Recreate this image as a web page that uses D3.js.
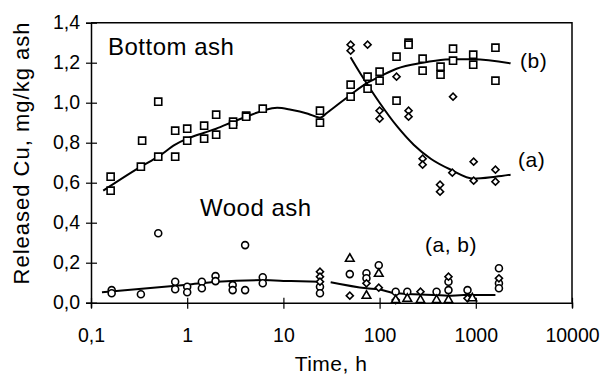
<!DOCTYPE html>
<html>
<head>
<meta charset="utf-8">
<script src="https://cdn.jsdelivr.net/npm/d3@7"></script>
<style>
  body { margin: 0; background: #fff; }
  text { font-family: Arial, "Liberation Sans", sans-serif; fill: #000; }
</style>
</head>
<body>
<svg id="chart" width="607" height="377"></svg>
<script>
// tick labels
const xTicks = [0.1, 1, 10, 100, 1000, 10000];
const xTickLabels = ['0,1', '1', '10', '100', '1000', '10000'];
const yTicks = [0, 0.2, 0.4, 0.6, 0.8, 1.0, 1.2, 1.4];
const yTickLabels = ['0,0', '0,2', '0,4', '0,6', '0,8', '1,0', '1,2', '1,4'];

// bottom ash, series (b): squares
const bottomBTime = [0.16, 0.16, 0.33, 0.34, 0.5, 0.5, 0.75, 0.75, 1.0, 1.0, 1.5, 1.5, 2.0, 2.0, 3.0, 3.0, 4.1, 4.1, 6.1,
  24, 24, 50, 50, 75, 75, 100, 100, 150, 150, 200, 200, 280, 280, 430, 430, 580, 580, 940, 940, 1600, 1600];
const bottomBCu = [0.63, 0.56, 0.68, 0.81, 1.005, 0.73, 0.86, 0.73, 0.87, 0.81, 0.885, 0.82, 0.94, 0.84, 0.905, 0.89, 0.935, 0.93, 0.97,
  0.96, 0.90, 1.09, 1.03, 1.13, 1.07, 1.155, 1.11, 1.23, 1.01, 1.30, 1.29, 1.22, 1.16, 1.18, 1.14, 1.27, 1.21, 1.24, 1.19, 1.275, 1.11];

// bottom ash, series (a): diamonds
const bottomATime = [50, 50, 75, 100, 100, 150, 200, 200, 280, 280, 425, 425, 570, 580, 950, 950, 1600, 1600];
const bottomACu = [1.29, 1.26, 1.29, 0.96, 0.92, 1.13, 0.96, 0.93, 0.72, 0.69, 0.59, 0.555, 0.65, 1.03, 0.705, 0.61, 0.665, 0.605];

// fitted curves, bottom ash
const curveBTime = [0.134, 0.33, 0.5, 0.75, 1, 1.5, 2, 3, 4.1, 6.1, 8.6, 12, 18, 24, 28.5, 50, 75, 100, 150, 280, 380, 580, 940, 2300];
const curveBCu = [0.56, 0.68, 0.73, 0.79, 0.82, 0.85, 0.87, 0.905, 0.93, 0.96, 0.975, 0.965, 0.945, 0.925, 0.95, 1.04, 1.10, 1.13, 1.17, 1.20, 1.21, 1.217, 1.217, 1.197];
const curveATime = [50, 60.6, 75, 100, 153, 226, 340, 550, 950, 1600, 2300];
const curveACu = [1.227, 1.16, 1.09, 1.0, 0.88, 0.79, 0.72, 0.665, 0.62, 0.63, 0.64];

// wood ash markers
const woodCircleTime = [0.164, 0.164, 0.33, 0.5, 0.75, 0.75, 1.0, 1.0, 1.42, 1.42, 1.97, 1.97, 2.97, 2.97, 4.0, 4.0, 6.1, 6.1,
  24, 24, 49, 73, 73, 98, 147, 194, 391, 520, 520, 820, 1740, 1740, 1740];
const woodCircleCu = [0.063, 0.047, 0.042, 0.347, 0.105, 0.067, 0.08, 0.052, 0.105, 0.072, 0.133, 0.108, 0.088, 0.063, 0.288, 0.063, 0.127, 0.097,
  0.08, 0.047, 0.143, 0.147, 0.122, 0.187, 0.055, 0.055, 0.055, 0.105, 0.063, 0.063, 0.172, 0.097, 0.072];
const woodDiamondTime = [24, 24, 24, 49, 73, 98, 147, 266, 520, 820, 1740];
const woodDiamondCu = [0.155, 0.13, 0.105, 0.035, 0.097, 0.075, 0.013, 0.055, 0.13, 0.022, 0.122];
const woodTriangleTime = [49, 73, 98, 147, 194, 266, 391, 520, 920];
const woodTriangleCu = [0.22, 0.035, 0.145, 0.013, 0.02, 0.013, 0.013, 0.013, 0.022];

// fitted curves, wood ash
const woodCurve1Time = [0.13, 1.0, 2.04, 6.1, 12, 24];
const woodCurve1Cu = [0.052, 0.09, 0.105, 0.113, 0.108, 0.105];
const woodCurve2Time = [31, 73, 98, 147, 391, 510, 750, 1600];
const woodCurve2Cu = [0.102, 0.072, 0.067, 0.047, 0.038, 0.035, 0.038, 0.038];

const svg = d3.select('#chart');
const mLeft = 91, mRight = 572, mTop = 22.7, mBottom = 302.7;

const x = d3.scaleLog().domain([0.1, 10000]).range([mLeft, mRight]);
const y = d3.scaleLinear().domain([0, 1.4]).range([mBottom, mTop]);

const pts = (ts, vs) => ts.map((t, i) => ({ t: t, v: vs[i] }));

// frame (top + right)
svg.append('path')
  .attr('d', `M${mLeft},${mTop}H${mRight}V${mBottom}`)
  .attr('fill', 'none').attr('stroke', '#000').attr('stroke-width', 1.5);

// axes
const xAxis = d3.axisBottom(x).tickValues(xTicks)
  .tickFormat((d, i) => xTickLabels[i]).tickSize(5);
const gx = svg.append('g').attr('transform', `translate(0,${mBottom})`).call(xAxis);
gx.selectAll('.tick line').attr('y1', -5).attr('y2', 6);

const yAxis = d3.axisLeft(y).tickValues(yTicks)
  .tickFormat((d, i) => yTickLabels[i]).tickSize(5).tickPadding(6);
const gy = svg.append('g').attr('transform', `translate(${mLeft},0)`).call(yAxis);
gy.selectAll('.tick line').attr('x1', -5).attr('x2', 6);

[gx, gy].forEach(g => {
  g.select('.domain').attr('stroke-width', 1.5);
  g.selectAll('.tick line').attr('stroke-width', 1.2);
  g.selectAll('text').style('font-size', '19.5px').style('font-family', 'Arial, "Liberation Sans", sans-serif');
});
gx.selectAll('text').attr('dy', null).attr('y', 39);

// axis titles
svg.append('text')
  .attr('x', 331).attr('y', 371)
  .attr('text-anchor', 'middle')
  .style('font-size', '21px')
  .style('letter-spacing', '0.5px')
  .text('Time, h');
svg.append('text')
  .attr('transform', 'translate(28.5,153) rotate(-90)')
  .attr('text-anchor', 'middle')
  .style('font-size', '22px')
  .style('letter-spacing', '1px')
  .text('Released Cu, mg/kg ash');

// curves
const line = d3.line()
  .x(d => x(d.t))
  .y(d => y(d.v))
  .curve(d3.curveMonotoneX);

[pts(curveBTime, curveBCu), pts(curveATime, curveACu),
 pts(woodCurve1Time, woodCurve1Cu), pts(woodCurve2Time, woodCurve2Cu)].forEach(data => {
  svg.append('path')
    .datum(data)
    .attr('d', line)
    .attr('fill', 'none')
    .attr('stroke', '#000')
    .attr('stroke-width', 2);
});

// markers; diamonds are squares turned by 45 degrees
function markers(data, type, size, turn) {
  svg.append('g')
    .selectAll('path')
    .data(data)
    .join('path')
    .attr('transform', d => `translate(${x(d.t)},${y(d.v)}) rotate(${turn || 0})`)
    .attr('d', d3.symbol().type(type).size(size))
    .attr('fill', '#fff')
    .attr('stroke', '#000')
    .attr('stroke-width', 1.6);
}
markers(pts(bottomBTime, bottomBCu), d3.symbolSquare, 50);
markers(pts(bottomATime, bottomACu), d3.symbolSquare, 25, 45);
markers(pts(woodCircleTime, woodCircleCu), d3.symbolCircle, 38);
markers(pts(woodDiamondTime, woodDiamondCu), d3.symbolSquare, 25, 45);
markers(pts(woodTriangleTime, woodTriangleCu), d3.symbolTriangle, 32);

// annotations
const notes = [
  { text: 'Bottom ash', x: 108, y: 55, size: 24 },
  { text: 'Wood ash', x: 200, y: 216, size: 24 },
  { text: '(b)', x: 520, y: 68, size: 21 },
  { text: '(a)', x: 518, y: 167, size: 21 },
  { text: '(a, b)', x: 425, y: 252, size: 21 }
];
svg.selectAll('text.note')
  .data(notes)
  .join('text')
  .attr('class', 'note')
  .attr('x', d => d.x)
  .attr('y', d => d.y)
  .style('font-size', d => d.size + 'px')
  .style('letter-spacing', '0.5px')
  .text(d => d.text);
</script>
</body>
</html>
